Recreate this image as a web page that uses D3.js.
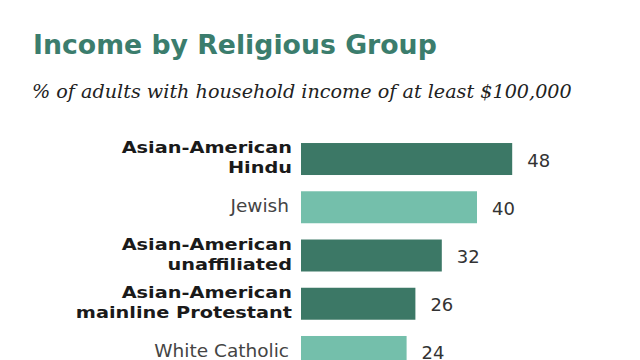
<!DOCTYPE html>
<html>
<head>
<meta charset="utf-8">
<script src="https://cdn.jsdelivr.net/npm/d3@7"></script>
<style>
  html, body { margin: 0; padding: 0; background: #fff; }
  svg { display: block; }
</style>
</head>
<body>
<svg id="chart" width="640" height="360"></svg>
<script>
const categories = [
  ["Asian-American", "Hindu"],
  ["Jewish"],
  ["Asian-American", "unaffiliated"],
  ["Asian-American", "mainline Protestant"],
  ["White Catholic"]
];
const values = [48, 40, 32, 26, 24];
const isAsian = [true, false, true, true, false];
const title = "Income by Religious Group";
const subtitle = "% of adults with household income of at least $100,000";

const svg = d3.select("#chart");
const keys = categories.map(c => c.join(" "));

const y = d3.scaleBand().domain(keys).range([134.9, 376.1]).paddingInner(0.337).paddingOuter(0.1685);
const x = d3.scaleLinear().domain([0, 50]).range([301, 521]);

function fit(sel, target) {
  const w = sel.node().getComputedTextLength();
  const fs = parseFloat(sel.attr("font-size"));
  sel.attr("font-size", fs * target / w);
}

const t = svg.append("text").attr("x", 33).attr("y", 54)
  .attr("font-family", "DejaVu Sans, Verdana, sans-serif").attr("font-weight", "bold")
  .attr("font-size", 22).attr("fill", "#3b7d6d").text(title);
fit(t, 404);

const st = svg.append("text").attr("x", 32).attr("y", 98)
  .attr("font-family", "DejaVu Serif, Georgia, serif").attr("font-style", "italic")
  .attr("font-size", 16).attr("fill", "#222").text(subtitle);
fit(st, 540);

const rows = svg.append("g").selectAll("g").data(keys).join("g");

rows.append("rect")
  .attr("x", x(0))
  .attr("y", d => y(d))
  .attr("width", (d, i) => x(values[i]) - x(0))
  .attr("height", y.bandwidth())
  .attr("fill", (d, i) => isAsian[i] ? "#3c7866" : "#74bfab");

rows.append("text")
  .attr("x", (d, i) => x(values[i]) + 15)
  .attr("y", d => y(d) + y.bandwidth() / 2 + 7.5)
  .attr("font-family", "DejaVu Sans, Verdana, sans-serif")
  .attr("font-size", 18).attr("fill", "#333")
  .text((d, i) => values[i]);

// Verdana Bold is wider than DejaVu Sans Bold: stretch glyphs horizontally
const boldFs = 16.5, boldStretch = 19.3 / 16.5;
rows.each(function(d, i) {
  const g = d3.select(this);
  const lines = categories[i];
  const c = y(d) + y.bandwidth() / 2;
  const lh = 20;
  lines.forEach((ln, j) => {
    const off = (j - (lines.length - 1) / 2) * lh;
    const tx = g.append("text")
      .attr("x", isAsian[i] ? 292 : 289)
      .attr("y", c + off + (isAsian[i] ? 4 : 5))
      .attr("text-anchor", "end")
      .attr("font-family", "DejaVu Sans, Verdana, sans-serif")
      .attr("font-weight", isAsian[i] ? "bold" : "normal")
      .attr("font-size", isAsian[i] ? boldFs : 18.5)
      .attr("fill", isAsian[i] ? "#1a1a1a" : "#444")
      .text(ln);
    if (isAsian[i]) {
      const w = tx.node().getComputedTextLength();
      tx.attr("textLength", w * boldStretch).attr("lengthAdjust", "spacingAndGlyphs");
    }
  });
});
</script>
</body>
</html>
